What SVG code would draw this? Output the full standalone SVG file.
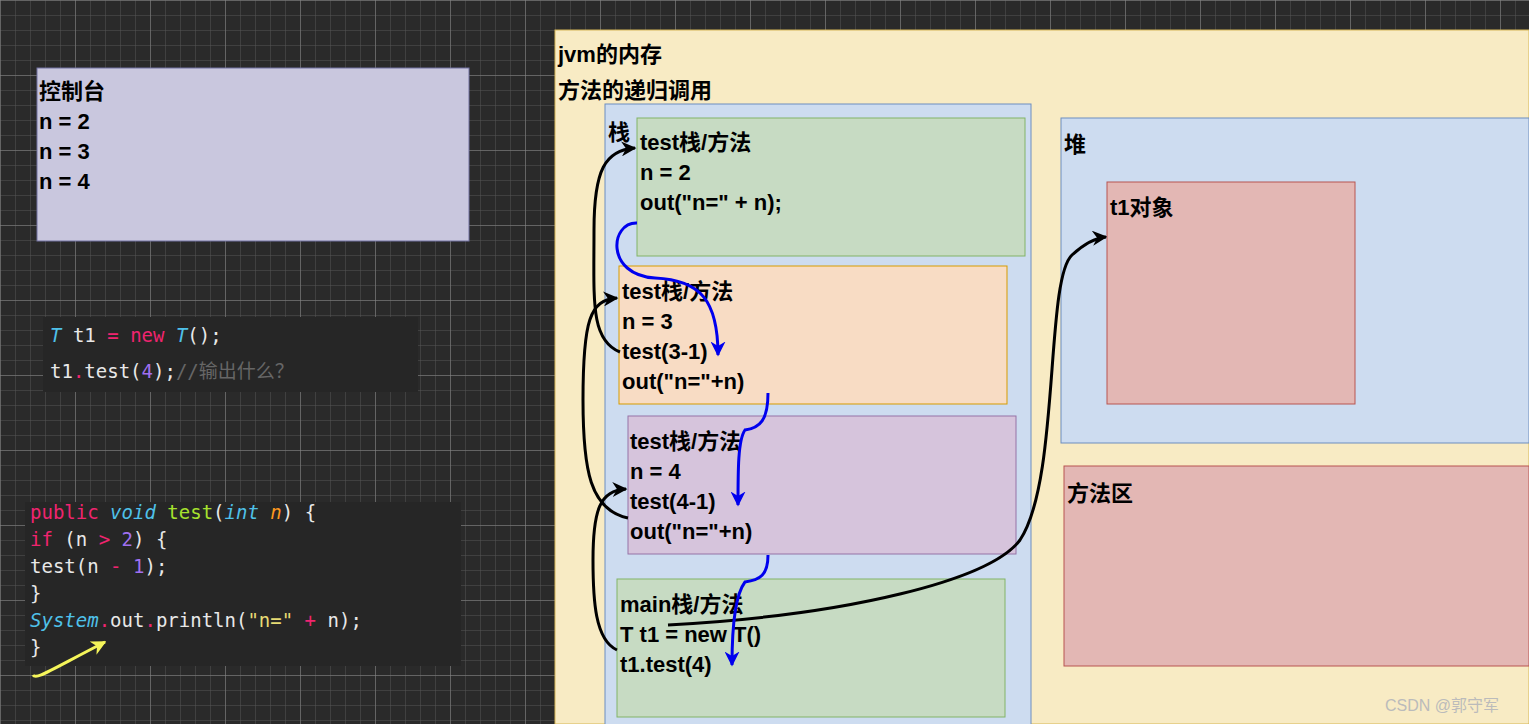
<svg xmlns="http://www.w3.org/2000/svg" width="1529" height="724" viewBox="0 0 1529 724">
<defs>
<pattern id="g" width="15" height="15" patternUnits="userSpaceOnUse"><path d="M15 0H0V15" fill="none" stroke="#555" stroke-width="1"/></pattern>
<pattern id="G" width="75" height="75" patternUnits="userSpaceOnUse"><path d="M75 0H0V75" fill="none" stroke="#888" stroke-width="1"/></pattern>
<marker id="ab" viewBox="0 0 10 10" refX="9" refY="5" markerWidth="5" markerHeight="5" orient="auto"><path d="M0 0L10 5L0 10L3 5z" fill="#000"/></marker>
<marker id="au" viewBox="0 0 10 10" refX="9" refY="5" markerWidth="5" markerHeight="5" orient="auto"><path d="M0 0L10 5L0 10L3 5z" fill="#0000ee"/></marker>
<marker id="ay" viewBox="0 0 10 10" refX="9" refY="5" markerWidth="5" markerHeight="5" orient="auto"><path d="M0 0L10 5L0 10L3 5z" fill="#f5f55a"/></marker>
</defs>
<style>
.t{font-family:"Liberation Sans","Noto Sans CJK SC",sans-serif;font-weight:bold;font-size:22px;fill:#000}
.c{font-family:"DejaVu Sans Mono","Noto Sans CJK SC",monospace;font-size:19px;fill:#e8e8e8}
.k{stroke:#000;stroke-width:3;fill:none;marker-end:url(#ab)}
.b{stroke:#0000ee;stroke-width:3;fill:none;marker-end:url(#au)}
</style>
<rect width="1529" height="724" fill="#2a2a2a"/>
<rect width="1529" height="724" fill="url(#g)"/>
<rect width="1529" height="724" fill="url(#G)"/>
<g id="console"><rect x="37" y="68" width="432" height="173" fill="#c9c7de" stroke="#7070a0"/>
<text class="t" x="39" y="99">控制台</text><text class="t" x="39" y="129">n = 2</text><text class="t" x="39" y="159">n = 3</text><text class="t" x="39" y="189">n = 4</text></g>
<g id="code1"><rect x="43" y="317" width="375" height="75" fill="#262626"/>
<text class="c" x="50" y="342" font-size="24"><tspan fill="#4fc1e9" font-style="italic">T</tspan> t1 <tspan fill="#f0246f">=</tspan> <tspan fill="#f0246f">new</tspan> <tspan fill="#4fc1e9" font-style="italic">T</tspan>();</text>
<text class="c" x="50" y="378" font-size="24">t1<tspan fill="#f0246f">.</tspan>test(<tspan fill="#a070f0">4</tspan>);<tspan fill="#666">//输出什么？</tspan></text></g>
<g id="code2"><rect x="25" y="502" width="436" height="164" fill="#262626"/>
<text class="c" x="30" y="519"><tspan fill="#f0246f">public</tspan>  <tspan fill="#4fc1e9" font-style="italic">void</tspan> <tspan fill="#a6e22e">test</tspan>(<tspan fill="#4fc1e9" font-style="italic">int</tspan> <tspan fill="#fd971f" font-style="italic">n</tspan>) {</text>
<text class="c" x="30" y="546">    <tspan fill="#f0246f">if</tspan> (n <tspan fill="#f0246f">&gt;</tspan> <tspan fill="#a070f0">2</tspan>) {</text>
<text class="c" x="30" y="573">        test(n <tspan fill="#f0246f">-</tspan> <tspan fill="#a070f0">1</tspan>);</text>
<text class="c" x="30" y="600">    }</text>
<text class="c" x="30" y="627">    <tspan fill="#4fc1e9" font-style="italic">System</tspan><tspan fill="#f0246f">.</tspan>out<tspan fill="#f0246f">.</tspan>println(<tspan fill="#e6db74">"n="</tspan> <tspan fill="#f0246f">+</tspan> n);</text>
<text class="c" x="30" y="654">}</text></g>
<g id="mem"><rect x="555" y="30" width="974" height="694" fill="#f8ebc4" stroke="#d6b656"/>
<text class="t" x="558" y="62" font-size="24">jvm的内存</text><text class="t" x="558" y="98" font-size="24">方法的递归调用</text></g>
<g id="stack"><rect x="605" y="104" width="426" height="630" fill="#cddcf0" stroke="#6c8ebf"/><text class="t" x="608" y="140" font-size="24">栈</text></g>
<g id="f1"><rect x="637" y="118" width="388" height="138" fill="#c7dbc3" stroke="#82b366"/>
<text class="t" x="640" y="150">test栈/方法</text><text class="t" x="640" y="180">n = 2</text><text class="t" x="640" y="210">out("n=" + n);</text></g>
<g id="f2"><rect x="619" y="266" width="388" height="138" fill="#f8dcc4" stroke="#d79b00"/>
<text class="t" x="622" y="299">test栈/方法</text><text class="t" x="622" y="329">n = 3</text><text class="t" x="622" y="359">test(3-1)</text><text class="t" x="622" y="389">out("n="+n)</text></g>
<g id="f3"><rect x="628" y="416" width="388" height="138" fill="#d6c4dc" stroke="#9673a6"/>
<text class="t" x="630" y="449">test栈/方法</text><text class="t" x="630" y="479">n = 4</text><text class="t" x="630" y="509">test(4-1)</text><text class="t" x="630" y="539">out("n="+n)</text></g>
<g id="fmain"><rect x="617" y="579" width="388" height="138" fill="#c7dbc3" stroke="#82b366"/>
<text class="t" x="620" y="612">main栈/方法</text><text class="t" x="620" y="642">T t1 = new T()</text><text class="t" x="620" y="672">t1.test(4)</text></g>
<g id="heap"><rect x="1061" y="118" width="468" height="325" fill="#cddcf0" stroke="#6c8ebf"/><text class="t" x="1064" y="152" font-size="24">堆</text></g>
<g id="obj"><rect x="1107" y="182" width="248" height="222" fill="#e3b7b4" stroke="#b85450"/><text class="t" x="1110" y="215">t1对象</text></g>
<g id="method"><rect x="1064" y="466" width="465" height="200" fill="#e3b7b4" stroke="#b85450"/><text class="t" x="1067" y="501" font-size="24">方法区</text></g>
<g id="connectors">
<path class="k" d="M620,352 C590,340 594,300 594,230 C594,170 605,150 635,148"/>
<path class="k" d="M628,518 C590,510 583,470 583,400 C583,320 590,300 617,298"/>
<path class="k" d="M617,650 C595,640 593,600 593,560 C593,510 600,490 626,489"/>
<path class="k" d="M668,625 C850,615 990,580 1020,540 C1060,480 1045,280 1072,255 C1085,243 1095,238 1106,237"/>
<path class="b" d="M637,223 C610,222 605,275 655,278 C700,280 718,300 718,355"/>
<path class="b" d="M768,393 C768,420 760,428 745,430 C738,440 738,470 738,505"/>
<path class="b" d="M768,555 C768,575 760,580 745,582 C735,595 732,630 732,665"/>
<path d="M33,675 C36,680 45,673 105,642" stroke="#f5f55a" stroke-width="3" fill="none" marker-end="url(#ay)"/>
</g>
<text x="1385" y="711" font-family="Liberation Sans,Noto Sans CJK SC,sans-serif" font-size="16" fill="#bbb">CSDN @郭守军</text>
</svg>
